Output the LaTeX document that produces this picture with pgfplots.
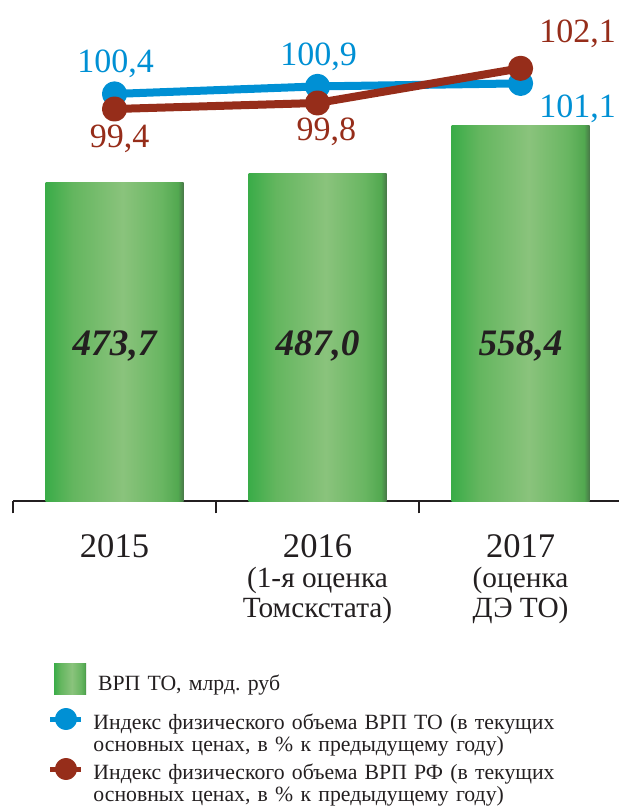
\documentclass[border=0pt]{standalone}
\usepackage{fontspec}
\setmainfont{Liberation Serif}
\usepackage{pgfplots}
\pgfplotsset{compat=1.18}
\definecolor{tblue}{RGB}{0,144,212}
\definecolor{tred}{RGB}{150,45,26}
\definecolor{ink}{RGB}{35,31,32}
\definecolor{g0}{RGB}{58,172,72}
\definecolor{g1}{RGB}{100,182,95}
\definecolor{g2}{RGB}{138,195,124}
\definecolor{g3}{RGB}{105,182,98}
\definecolor{g4}{RGB}{82,168,80}
\definecolor{g5}{RGB}{72,120,72}
\pgfdeclarehorizontalshading{barshade}{100bp}{color(0bp)=(g0); color(25bp)=(g0); color(35bp)=(g1); color(53bp)=(g2); color(67bp)=(g3); color(73bp)=(g4); color(75bp)=(g5); color(100bp)=(g5)}
\begin{document}
\frenchspacing
\begin{tikzpicture}
\path[use as bounding box] (0,0) rectangle (464.25pt,-606.75pt);
\begin{axis}[
  scale only axis, width=454.5pt, height=375.975pt,
  at={(9.75pt,-375.975pt)}, anchor=south west,
  xmin=-0.5, xmax=2.485, ymin=0, ymax=745.3,
  clip=false,
  axis x line=bottom, axis y line=none,
  axis line style={-, line width=1.5pt, draw=ink},
  xtick={-0.5,0.5,1.5}, xticklabels={,,},
  tick align=outside, major tick length=9pt,
  xtick style={line width=2pt, draw=ink},
  ytick=\empty,
  legend style={at={(rel axis cs:0.1403,-0.3445)}, anchor=north west, draw=none, fill=none,
    inner sep=0pt, outer sep=0pt, column sep=0pt, row sep=0pt,
    cells={anchor=base west},
    nodes={inner sep=0pt, text height=12pt, text depth=4pt, text width=380pt, align=left},
    font=\frenchspacing\fontsize{16.3pt}{17.25pt}\selectfont, text=ink},
]
\addplot[ybar, bar width=103.5pt, draw=none, shading=barshade,
  legend image code/.code={\fill[overlay,shading=barshade] (-33pt,-3pt) rectangle (-9pt,20.25pt);}]
  coordinates {(0,473.7)};
\addlegendentry{ВРП ТО, млрд. руб}
\addplot[ybar, bar width=103.5pt, draw=none, shading=barshade, forget plot]
  coordinates {(1,487.0)};
\addplot[ybar, bar width=103.5pt, draw=none, shading=barshade, forget plot]
  coordinates {(2,558.4)};
\node[anchor=base, font=\bfseries\itshape\fontsize{28pt}{30pt}\selectfont, text=ink] at (axis cs:0,217.5) {473,7};
\node[anchor=base, font=\bfseries\itshape\fontsize{28pt}{30pt}\selectfont, text=ink] at (axis cs:1,217.5) {487,0};
\node[anchor=base, font=\bfseries\itshape\fontsize{28pt}{30pt}\selectfont, text=ink] at (axis cs:2,217.5) {558,4};
\node[anchor=base, font=\fontsize{25.9pt}{28pt}\selectfont, text=ink, yshift=-41.8pt] at (axis cs:0,0) {2015};
\node[anchor=base, font=\fontsize{25.9pt}{28pt}\selectfont, text=ink, yshift=-41.8pt] at (axis cs:1,0) {2016};
\node[anchor=base, font=\fontsize{25.9pt}{28pt}\selectfont, text=ink, yshift=-41.8pt] at (axis cs:2,0) {2017};
\node[anchor=base, font=\fontsize{22pt}{24pt}\selectfont, text=ink, yshift=-64.3pt] at (axis cs:1,0) {(1-я оценка};
\node[anchor=base, font=\fontsize{22pt}{24pt}\selectfont, text=ink, yshift=-86.8pt] at (axis cs:1,0) {Томскстата)};
\node[anchor=base, font=\fontsize{22pt}{24pt}\selectfont, text=ink, yshift=-64.3pt] at (axis cs:2,0) {(оценка};
\node[anchor=base, font=\fontsize{22pt}{24pt}\selectfont, text=ink, yshift=-86.8pt] at (axis cs:2,0) {ДЭ ТО)};
\end{axis}
\begin{axis}[
  scale only axis, width=454.5pt, height=375.975pt,
  at={(9.75pt,-375.975pt)}, anchor=south west,
  xmin=-0.5, xmax=2.485, ymin=73.368, ymax=106.633,
  hide axis, clip=false,
  legend style={at={(rel axis cs:0.1328,-0.4223)}, anchor=north west, draw=none, fill=none,
    inner sep=0pt, outer sep=0pt, column sep=0pt, row sep=21.5pt,
    cells={anchor=base west},
    nodes={inner sep=0pt, text height=12pt, text depth=4pt, text width=380pt, align=left},
    font=\frenchspacing\fontsize{16.3pt}{17pt}\selectfont, text=ink},
]
\addplot[tblue, line width=6pt, line join=round, mark=*, mark size=6.4pt,
  mark options={draw=none, fill=tblue},
  legend image code/.code={\draw[overlay, tblue, line width=3.75pt] (-32.25pt,7.5pt) -- (-9.4pt,7.5pt); \fill[overlay,tblue] (-20.6pt,7.5pt) circle (5.25pt);}]
  coordinates {(0,100.4) (1,100.9) (2,101.1)};
\addlegendentry{Индекс физического объема ВРП ТО (в текущих\\основных ценах, в \% к предыдущему году)}
\addplot[tred, line width=6pt, line join=round, mark=*, mark size=6.4pt,
  mark options={draw=none, fill=tred},
  legend image code/.code={\draw[overlay, tred, line width=3.75pt] (-32.25pt,7.5pt) -- (-9.4pt,7.5pt); \fill[overlay,tred] (-20.6pt,7.5pt) circle (5.25pt);}]
  coordinates {(0,99.4) (1,99.8) (2,102.1)};
\addlegendentry{Индекс физического объема ВРП РФ (в текущих\\основных ценах, в \% к предыдущему году)}
\node[anchor=base, font=\fontsize{25.5pt}{27pt}\selectfont, text=tblue] at (axis cs:0.005,101.855) {100,4};
\node[anchor=base, font=\fontsize{25.5pt}{27pt}\selectfont, text=tblue] at (axis cs:1.005,102.319) {100,9};
\node[anchor=base, font=\fontsize{25.5pt}{27pt}\selectfont, text=tblue] at (axis cs:2.281,98.869) {101,1};
\node[anchor=base, font=\fontsize{25.5pt}{27pt}\selectfont, text=tred] at (axis cs:2.281,103.845) {102,1};
\node[anchor=base, font=\fontsize{25.5pt}{27pt}\selectfont, text=tred] at (axis cs:0.025,96.813) {99,4};
\node[anchor=base, font=\fontsize{25.5pt}{27pt}\selectfont, text=tred] at (axis cs:1.044,97.343) {99,8};
\end{axis}
\end{tikzpicture}
\end{document}
